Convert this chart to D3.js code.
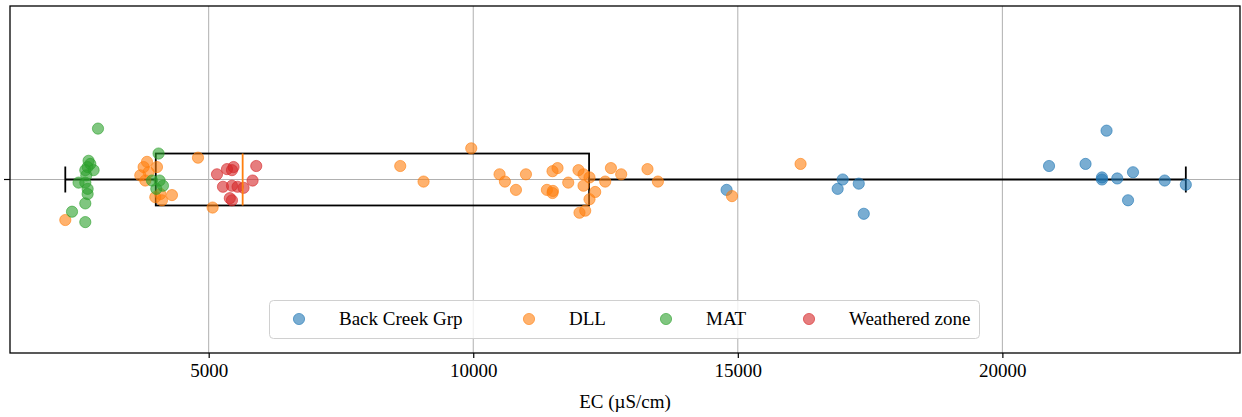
<!DOCTYPE html>
<html>
<head>
<meta charset="utf-8">
<script src="https://cdn.jsdelivr.net/npm/d3@7"></script>
<style>
  body { margin: 0; background: #fff; }
  text { font-family: "Liberation Serif", "DejaVu Serif", serif; }
</style>
</head>
<body>
<script>
//SVG dimension variables
var w = 1242, h = 417;
var margin = {top: 6, right: 2, bottom: 64, left: 10};

//groups and colours (tab10)
var groups = ["Back Creek Grp", "DLL", "MAT", "Weathered zone"];
var colors = ["#1f77b4", "#ff7f0e", "#2ca02c", "#d62728"];

//EC values (µS/cm) and vertical jitter for each group
var backCreekEC = [14788, 16982, 16887, 17286, 17381, 20882, 21572, 21969, 21882, 21882, 22171, 22469, 22375, 23068, 23467];
var backCreekJitter = [-0.10, 0.00, -0.09, -0.04, -0.33, 0.13, 0.15, 0.47, 0.00, 0.02, 0.01, 0.07, -0.20, -0.01, -0.05];

var dllEC = [2290, 3834, 3770, 4023, 3707, 3864, 3802, 3991, 4117, 4306, 4085, 4798, 5074,
    9962, 8620, 9061, 10497, 10599, 10807, 10996, 11498, 11593, 11392, 11498, 11506, 11795,
    11989, 12084, 12197, 12084, 12305, 12197, 12008, 12116, 12494, 12602, 12796, 13293, 13490,
    14890, 16186];
var dllJitter = [-0.39, 0.17, 0.12, 0.12, 0.04, 0.07, -0.01, -0.17, -0.20, -0.15, -0.14, 0.21, -0.27,
    0.30, 0.13, -0.02, 0.05, -0.02, -0.10, 0.05, 0.08, 0.11, -0.10, -0.13, -0.11, -0.03,
    0.09, 0.05, 0.02, -0.06, -0.12, -0.19, -0.32, -0.30, -0.02, 0.11, 0.05, 0.10, -0.02,
    -0.16, 0.15];

var matEC = [2908, 2730, 2763, 2712, 2825, 2668, 2687, 2541, 2668, 2712, 2712, 2668, 2417, 2668,
    4053, 4072, 4010, 4136, 3929];
var matJitter = [0.49, 0.18, 0.15, 0.12, 0.09, 0.09, 0.04, -0.03, -0.03, -0.09, -0.14, -0.23, -0.31, -0.41,
    0.25, -0.01, -0.09, -0.06, -0.01];

var weatheredEC = [5157, 5346, 5470, 5440, 5899, 5270, 5440, 5546, 5659, 5829, 5440, 5399];
var weatheredJitter = [0.05, 0.10, 0.12, 0.09, 0.13, -0.07, -0.06, -0.07, -0.08, -0.01, -0.20, -0.18];

//box plot of all samples: [lower whisker, Q1, median, Q3, upper whisker]
var boxStats = [2290, 4000, 5642, 12189, 23467];

var xTicks = [5000, 10000, 15000, 20000];

window.onload = function(){

    var pw = w - margin.left - margin.right,
        ph = h - margin.top - margin.bottom;

    var svg = d3.select("body")
        .append("svg")
        .attr("width", w)
        .attr("height", h);

    var g = svg.append("g")
        .attr("transform", "translate(" + margin.left + "," + margin.top + ")");

    var x = d3.scaleLinear().domain([1245, 24491]).range([0, pw]);
    var y = d3.scaleLinear().domain([-1.67, 1.67]).range([ph, 0]);

    //grid lines
    g.selectAll(".grid")
        .data(xTicks)
        .enter()
        .append("line")
        .attr("x1", function(d){ return x(d); })
        .attr("x2", function(d){ return x(d); })
        .attr("y1", 0)
        .attr("y2", ph)
        .style("stroke", "#b0b0b0")
        .style("stroke-width", 1);

    g.append("line")
        .attr("x1", 0).attr("x2", pw)
        .attr("y1", y(0)).attr("y2", y(0))
        .style("stroke", "#b0b0b0")
        .style("stroke-width", 1);

    //box plot
    var bs = {lo: boxStats[0], q1: boxStats[1], med: boxStats[2], q3: boxStats[3], hi: boxStats[4]};
    var box = g.append("g").attr("class", "box");

    box.append("line")
        .attr("x1", x(bs.lo)).attr("x2", x(bs.q1))
        .attr("y1", y(0)).attr("y2", y(0));
    box.append("line")
        .attr("x1", x(bs.q3)).attr("x2", x(bs.hi))
        .attr("y1", y(0)).attr("y2", y(0));
    [bs.lo, bs.hi].forEach(function(v){
        box.append("line")
            .attr("x1", x(v)).attr("x2", x(v))
            .attr("y1", y(0.125)).attr("y2", y(-0.125));
    });
    box.append("rect")
        .attr("x", x(bs.q1))
        .attr("y", y(0.25))
        .attr("width", x(bs.q3) - x(bs.q1))
        .attr("height", y(-0.25) - y(0.25))
        .style("fill", "none");
    box.selectAll("line, rect")
        .style("stroke", "#000")
        .style("stroke-width", 1.8);

    //points
    var series = [
        {ec: backCreekEC, jit: backCreekJitter},
        {ec: dllEC, jit: dllJitter},
        {ec: matEC, jit: matJitter},
        {ec: weatheredEC, jit: weatheredJitter}
    ];
    series.forEach(function(s, i){
        g.selectAll(".pt" + i)
            .data(s.ec)
            .enter()
            .append("circle")
            .attr("cx", function(d){ return x(d); })
            .attr("cy", function(d, j){ return y(s.jit[j]); })
            .attr("r", 5.6)
            .style("fill", colors[i])
            .style("fill-opacity", 0.6)
            .style("stroke", colors[i])
            .style("stroke-opacity", 0.6)
            .style("stroke-width", 1);
    });

    //median
    g.append("line")
        .attr("x1", x(bs.med)).attr("x2", x(bs.med))
        .attr("y1", y(0.25)).attr("y2", y(-0.25))
        .style("stroke", "#ff7f0e")
        .style("stroke-width", 1.8);

    //frame
    g.append("rect")
        .attr("width", pw)
        .attr("height", ph)
        .style("fill", "none")
        .style("stroke", "#000")
        .style("stroke-width", 1.3);

    //x axis
    var xAxis = g.append("g")
        .attr("transform", "translate(0," + ph + ")")
        .call(d3.axisBottom(x).tickValues(xTicks).tickFormat(d3.format("d")).tickSize(5).tickPadding(6));
    xAxis.select(".domain").remove();
    xAxis.selectAll("text")
        .style("font-family", "Liberation Serif")
        .style("font-size", "19px")
        .style("fill", "#000");
    xAxis.selectAll("line").style("stroke", "#000").style("stroke-width", 1.2);

    //y tick without label
    g.append("line")
        .attr("x1", -6).attr("x2", 0)
        .attr("y1", y(0)).attr("y2", y(0))
        .style("stroke", "#000")
        .style("stroke-width", 1.2);

    g.append("text")
        .attr("x", pw / 2)
        .attr("y", ph + 55)
        .attr("text-anchor", "middle")
        .style("font-size", "19px")
        .text("EC (µS/cm)");

    //legend
    var legendX = [299, 529, 666, 809];
    var legend = svg.append("g").attr("class", "legend");
    legend.append("rect")
        .attr("x", 269.5).attr("y", 300.5)
        .attr("width", 710).attr("height", 38)
        .attr("rx", 4)
        .style("fill", "#fff")
        .style("fill-opacity", 0.8)
        .style("stroke", "#d0d0d0")
        .style("stroke-width", 1);
    groups.forEach(function(name, i){
        legend.append("circle")
            .attr("cx", legendX[i]).attr("cy", 319)
            .attr("r", 5.6)
            .style("fill", colors[i]).style("fill-opacity", 0.6)
            .style("stroke", colors[i]).style("stroke-opacity", 0.6);
        legend.append("text")
            .attr("x", legendX[i] + 40).attr("y", 325)
            .style("font-size", "19px")
            .text(name);
    });
};
</script>
</body>
</html>
